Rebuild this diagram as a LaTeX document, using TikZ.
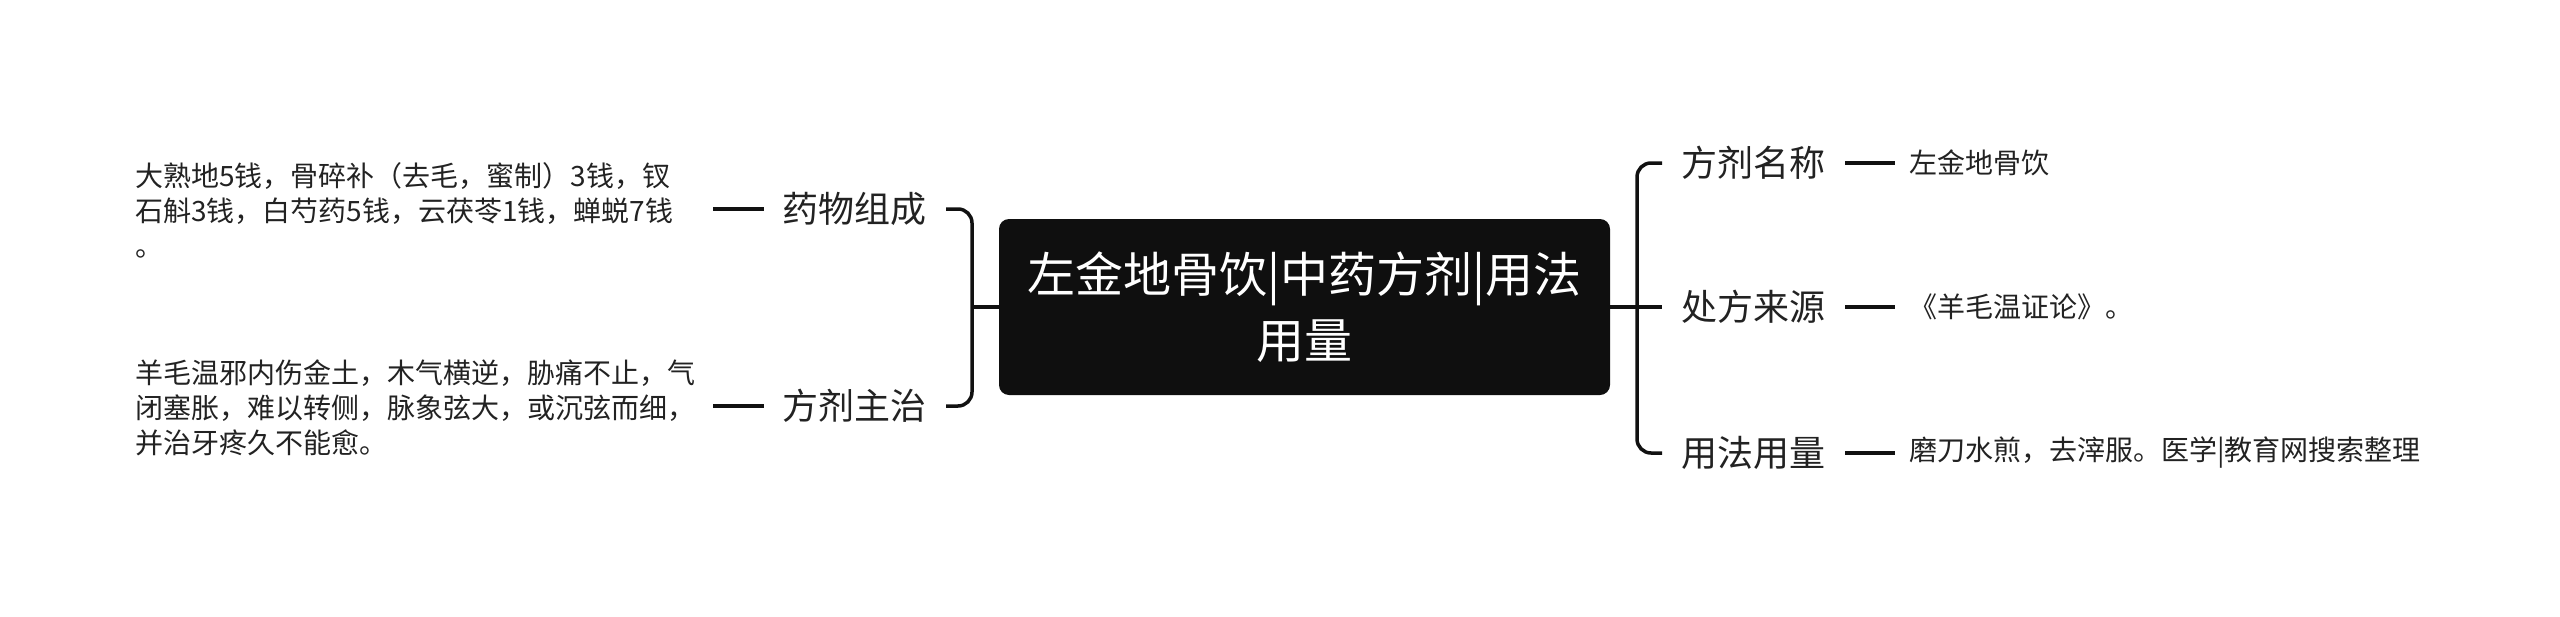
\documentclass[tikz,border=0pt]{standalone}
\usepackage{fontspec}
\setmainfont{Noto Sans CJK SC}
\definecolor{rootfill}{HTML}{0F0F0F}
\definecolor{txt}{HTML}{222222}
\definecolor{linec}{HTML}{111111}
\begin{document}
\begin{tikzpicture}[x=1pt,y=-1pt,
  rootbox/.style={fill=rootfill, rounded corners=10pt, text=white,
    minimum width=611pt, minimum height=176pt, inner sep=0pt,
    align=center, font=\fontsize{48}{66}\selectfont},
  lbl/.style={inner sep=0pt, text=txt, font=\fontsize{36}{44}\selectfont},
  leaf/.style={inner sep=0pt, text=txt, align=left, font=\fontsize{28}{35}\selectfont},
  conn/.style={draw=linec, line width=3.5pt},
  brk/.style={draw=linec, line width=3.5pt, rounded corners=14pt}]
\useasboundingbox (0,0) rectangle (2560,616);

\node[rootbox] (root) at (1304.5,307) {左金地骨饮|中药方剂|用法\\用量};

% right side
\node[lbl, anchor=west] (r1) at (1681,163) {方剂名称};
\node[lbl, anchor=west] (r2) at (1681,307) {处方来源};
\node[lbl, anchor=west] (r3) at (1681,453) {用法用量};
\node[leaf, anchor=west] (v1) at (1909,163) {左金地骨饮};
\node[leaf, anchor=west] (v2) at (1909,307) {《羊毛温证论》。};
\node[leaf, anchor=west] (v3) at (1909,453) {磨刀水煎，去滓服。医学|教育网搜索整理};

% left side
\node[lbl, anchor=east] (l1) at (927,209) {药物组成};
\node[lbl, anchor=east] (l2) at (927,406) {方剂主治};
\node[leaf, anchor=west] (u1) at (135,210) {大熟地5钱，骨碎补（去毛，蜜制）3钱，钗\\石斛3钱，白芍药5钱，云茯苓1钱，蝉蜕7钱\\。};
\node[leaf, anchor=west] (u2) at (135,408) {羊毛温邪内伤金土，木气横逆，胁痛不止，气\\闭塞胀，难以转侧，脉象弦大，或沉弦而细，\\并治牙疼久不能愈。};

% brackets
\coordinate (bxR) at (1637,307);
\coordinate (bxL) at (972,307);
\draw[brk] ([xshift=-19pt]r1.west) -- (r1.west -| bxR) -- (r3.west -| bxR) -- ([xshift=-19pt]r3.west);
\draw[conn] (root.east) -- ([xshift=-19pt]r2.west);
\draw[brk] ([xshift=19pt]l1.east) -- (l1.east -| bxL) -- (l2.east -| bxL) -- ([xshift=19pt]l2.east);
\draw[conn] (root.west) -- (bxL);

% dashes
\draw[conn] ([xshift=20pt]r1.east) -- ([xshift=-14pt]v1.west);
\draw[conn] ([xshift=20pt]r2.east) -- ([xshift=-14pt]v2.west);
\draw[conn] ([xshift=20pt]r3.east) -- ([xshift=-14pt]v3.west);
\draw[conn] ([xshift=-19pt]l1.west) -- ([xshift=-70pt]l1.west);
\draw[conn] ([xshift=-19pt]l2.west) -- ([xshift=-70pt]l2.west);
\end{tikzpicture}
\end{document}
